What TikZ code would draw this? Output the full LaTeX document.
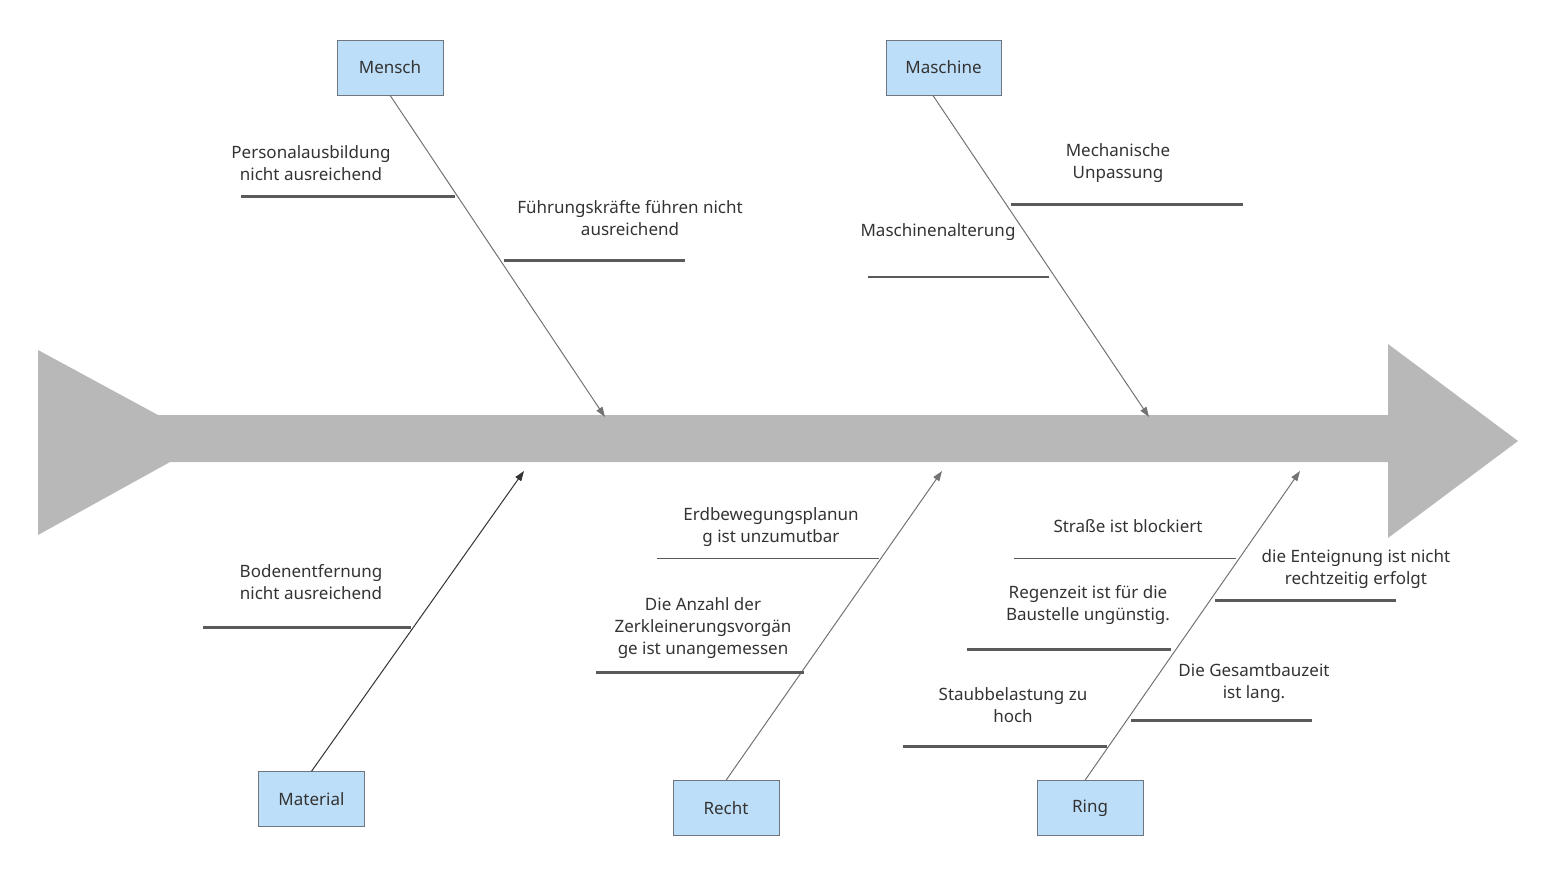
\documentclass[tikz,border=0pt]{standalone}
\usepackage{fontspec}
\setmainfont{Noto Sans}
\usetikzlibrary{arrows.meta}
\definecolor{boxfill}{HTML}{BDDEF8}
\definecolor{boxline}{HTML}{6E7680}
\definecolor{spine}{HTML}{B8B8B8}
\definecolor{bar}{HTML}{5A5A5A}
\definecolor{txt}{HTML}{333333}
\tikzset{
  cat/.style={draw=boxline,fill=boxfill,minimum width=106pt,minimum height=55pt,inner sep=0pt,font=\fontsize{17}{22}\selectfont,text=txt},
  lbl/.style={align=center,font=\fontsize{17}{22}\selectfont,text=txt,inner sep=0pt},
  bone/.style={draw=gray!90!black,line width=1pt,-{Triangle[length=10pt,width=7pt]}},
  sub/.style={draw=bar,line width=2.2pt},
  subthin/.style={draw=bar,line width=1.2pt}
}
\begin{document}
\begin{tikzpicture}[x=1pt,y=-1pt]
\useasboundingbox (0,0) rectangle (1555,871);
\fill[spine] (38,350)--(158,415)--(1388,415)--(1388,344)--(1518,441)--(1388,538)--(1388,462)--(170,462)--(38,535)--cycle;
\node[cat] (mensch) at (390,67.5) {Mensch};
\node[cat,minimum width=115pt] (masch) at (943.5,67.5) {Maschine};
\node[cat] (mat) at (311.5,799) {Material};
\node[cat] (recht) at (726,808) {Recht};
\node[cat] (ring) at (1090,808) {Ring};
\coordinate (m1) at (605,417);
\coordinate (m2) at (1149,417);
\coordinate (m3) at (524,471);
\coordinate (m4) at (942,471);
\coordinate (m5) at (1300,471);
\draw[bone] (mensch.south) -- (m1);
\draw[bone] (masch.south west)++(47,0) -- (m2);
\draw[bone,draw=black!80] (mat.north) -- (m3);
\draw[bone] (recht.north) -- (m4);
\draw[bone] (ring.north)++(-5,0) -- (m5);
\foreach \n/\a/\b/\y in {a/241/455/196.5,b/504/685/260.5,c/1011/1243/204.5,d/868/1049/277,e/203/411/627.5,g/596/804/672.5,i/1215/1396/600.5,j/967/1171/649.5,k/1131/1312/720.5,l/903/1107/746.5}{
  \coordinate (\n1) at (\a,\y); \coordinate (\n2) at (\b,\y);
  \draw[sub] (\n1) -- (\n2);}
\foreach \n/\a/\b/\y in {f/657/879/558.5,h/1014/1236/558.5}{
  \coordinate (\n1) at (\a,\y); \coordinate (\n2) at (\b,\y);
  \draw[subthin] (\n1) -- (\n2);}
\node[lbl] (t1) at (311,163) {Personalausbildung\\nicht ausreichend};
\node[lbl] (t2) at (630,218) {Führungskräfte führen nicht\\ausreichend};
\node[lbl] (t3) at (1118,163) {Mechanische\\Unpassung};
\node[lbl] (t4) at (938,232) {Maschinenalterung};
\node[lbl] (t5) at (311,582) {Bodenentfernung\\nicht ausreichend};
\node[lbl] (t6) at (771,527) {Erdbewegungsplanun\\g ist unzumutbar};
\node[lbl] (t7) at (703,628) {Die Anzahl der\\Zerkleinerungsvorgän\\ge ist unangemessen};
\node[lbl] (t8) at (1128,526) {Straße ist blockiert};
\node[lbl] (t9) at (1356,569) {die Enteignung ist nicht\\rechtzeitig erfolgt};
\node[lbl] (t10) at (1088,605) {Regenzeit ist für die\\Baustelle ungünstig.};
\node[lbl] (t11) at (1254,683) {Die Gesamtbauzeit\\ist lang.};
\node[lbl] (t12) at (1013,705) {Staubbelastung zu\\hoch};
\end{tikzpicture}
\end{document}
